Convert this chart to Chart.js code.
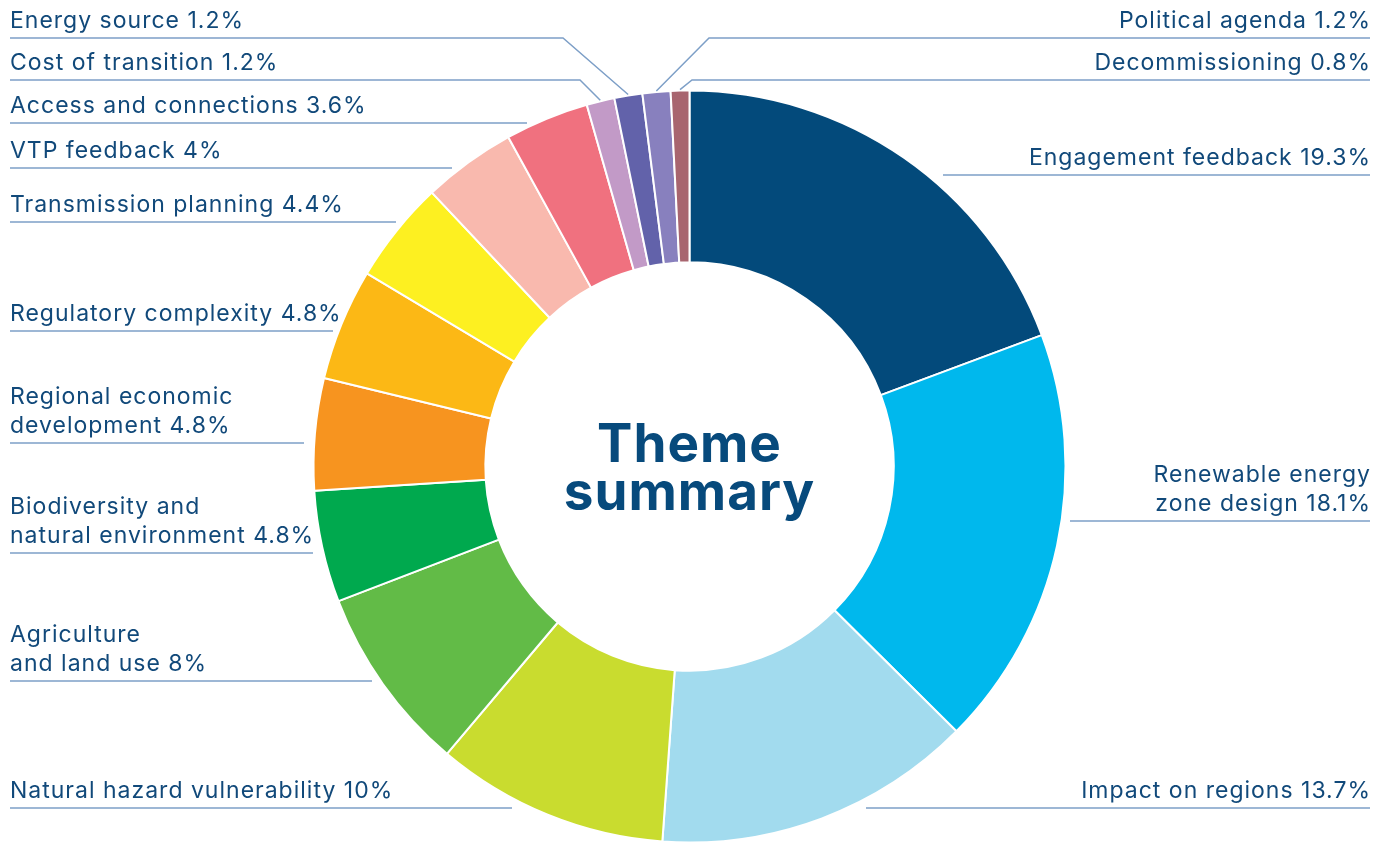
<!DOCTYPE html>
<html>
<head>
<meta charset="utf-8">
<title>Theme summary</title>
<script src="https://cdn.jsdelivr.net/npm/chart.js@4.4.1/dist/chart.umd.min.js"></script>
<style>
  html, body { margin: 0; padding: 0; background: #fff; }
  #wrap { width: 1389px; height: 843px; }
</style>
</head>
<body>
<div id="wrap"><canvas id="chart" width="1389" height="843"></canvas></div>
<script>
// Themes, clockwise from 12 o'clock
const themes = [
    'Engagement feedback',
    'Renewable energy zone design',
    'Impact on regions',
    'Natural hazard vulnerability',
    'Agriculture and land use',
    'Biodiversity and natural environment',
    'Regional economic development',
    'Regulatory complexity',
    'Transmission planning',
    'VTP feedback',
    'Access and connections',
    'Cost of transition',
    'Energy source',
    'Political agenda',
    'Decommissioning'
];

// Share of feedback per theme (%)
const shares = [19.3, 18.1, 13.7, 10, 8, 4.8, 4.8, 4.8, 4.4, 4, 3.6, 1.2, 1.2, 1.2, 0.8];

const colours = [
    '#034a7b', '#00b8ed', '#a2dbee', '#c9dc2f', '#62bb47',
    '#00a94e', '#f7941f', '#fcb815', '#fdf021', '#f9b9ae',
    '#f0717f', '#c29ac7', '#6262aa', '#8880be', '#a8656f'
];

// How each label wraps (value gets appended to the last line)
const labelLines = [
    ['Engagement feedback'],
    ['Renewable energy', 'zone design'],
    ['Impact on regions'],
    ['Natural hazard vulnerability'],
    ['Agriculture', 'and land use'],
    ['Biodiversity and', 'natural environment'],
    ['Regional economic', 'development'],
    ['Regulatory complexity'],
    ['Transmission planning'],
    ['VTP feedback'],
    ['Access and connections'],
    ['Cost of transition'],
    ['Energy source'],
    ['Political agenda'],
    ['Decommissioning']
];

// Callout placement: side, y of the underline, where the underline stops
// near the ring, and (for the thin slices) a bend before a diagonal to the arc
const callouts = [
    { side: 'right', lineY: 175, innerX: 943 },
    { side: 'right', lineY: 521, innerX: 1070 },
    { side: 'right', lineY: 808, innerX: 866 },
    { side: 'left', lineY: 808, innerX: 512 },
    { side: 'left', lineY: 681, innerX: 372 },
    { side: 'left', lineY: 553, innerX: 313 },
    { side: 'left', lineY: 443, innerX: 304 },
    { side: 'left', lineY: 331, innerX: 333 },
    { side: 'left', lineY: 222, innerX: 396 },
    { side: 'left', lineY: 168, innerX: 452 },
    { side: 'left', lineY: 123, innerX: 527 },
    { side: 'left', lineY: 80, innerX: 580, toArc: true },
    { side: 'left', lineY: 38, innerX: 563, toArc: true },
    { side: 'right', lineY: 38, innerX: 709, toArc: true },
    { side: 'right', lineY: 80, innerX: 692, toArc: true }
];

const TEXT_COLOUR = '#11497a';
const LINE_COLOUR = '#7d9fc7';
const LABEL_FONT = '400 23px Inter, "Noto Sans", sans-serif';
const LABEL_SPACING = 1;
const LEFT_X = 10;
const RIGHT_X = 1370;
const LINE_HEIGHT = 29;

// Draws the labels with their underlines / leaders, and the centre title
const calloutPlugin = {
    id: 'callouts',
    afterDatasetsDraw(chart) {
        const ctx = chart.ctx;
        const arcs = chart.getDatasetMeta(0).data;
        ctx.save();

        // centre title
        const c = arcs[0];
        ctx.fillStyle = '#074a7c';
        ctx.font = '700 53px Inter, "Noto Sans", sans-serif';
        ctx.letterSpacing = '1px';
        ctx.textAlign = 'center';
        ctx.textBaseline = 'alphabetic';
        ctx.fillText('Theme', c.x, 462);
        ctx.fillText('summary', c.x, 510);

        ctx.font = LABEL_FONT;
        ctx.letterSpacing = LABEL_SPACING + 'px';
        themes.forEach((name, i) => {
            const co = callouts[i];
            const lines = labelLines[i].slice();
            lines[lines.length - 1] += ' ' + shares[i] + '%';

            const isLeft = co.side === 'left';
            const textX = isLeft ? LEFT_X : RIGHT_X;
            const baseY = co.lineY - 10;

            ctx.fillStyle = TEXT_COLOUR;
            ctx.textAlign = isLeft ? 'left' : 'right';
            // trailing letter spacing would push right-aligned text inwards
            const drawX = isLeft ? textX : textX + LABEL_SPACING;
            lines.forEach((ln, k) => {
                ctx.fillText(ln, drawX, baseY - (lines.length - 1 - k) * LINE_HEIGHT);
            });

            ctx.strokeStyle = LINE_COLOUR;
            ctx.lineWidth = 1.5;
            ctx.beginPath();
            ctx.moveTo(textX, co.lineY);
            ctx.lineTo(co.innerX, co.lineY);
            if (co.toArc) {
                const arc = arcs[i];
                const mid = (arc.startAngle + arc.endAngle) / 2;
                const r = arc.outerRadius + 1;
                ctx.lineTo(arc.x + Math.cos(mid) * r, arc.y + Math.sin(mid) * r);
            }
            ctx.stroke();
        });

        ctx.restore();
    }
};

new Chart(document.getElementById('chart'), {
    type: 'doughnut',
    data: {
        labels: themes,
        datasets: [{
            data: shares,
            backgroundColor: colours,
            borderColor: '#ffffff',
            borderWidth: 2
        }]
    },
    options: {
        responsive: false,
        animation: false,
        radius: 376,
        cutout: '54.3%',
        layout: {
            padding: { left: 313, right: 323, top: 90, bottom: 0 }
        },
        plugins: {
            legend: { display: false },
            tooltip: { enabled: false }
        }
    },
    plugins: [calloutPlugin]
});
</script>
</body>
</html>
